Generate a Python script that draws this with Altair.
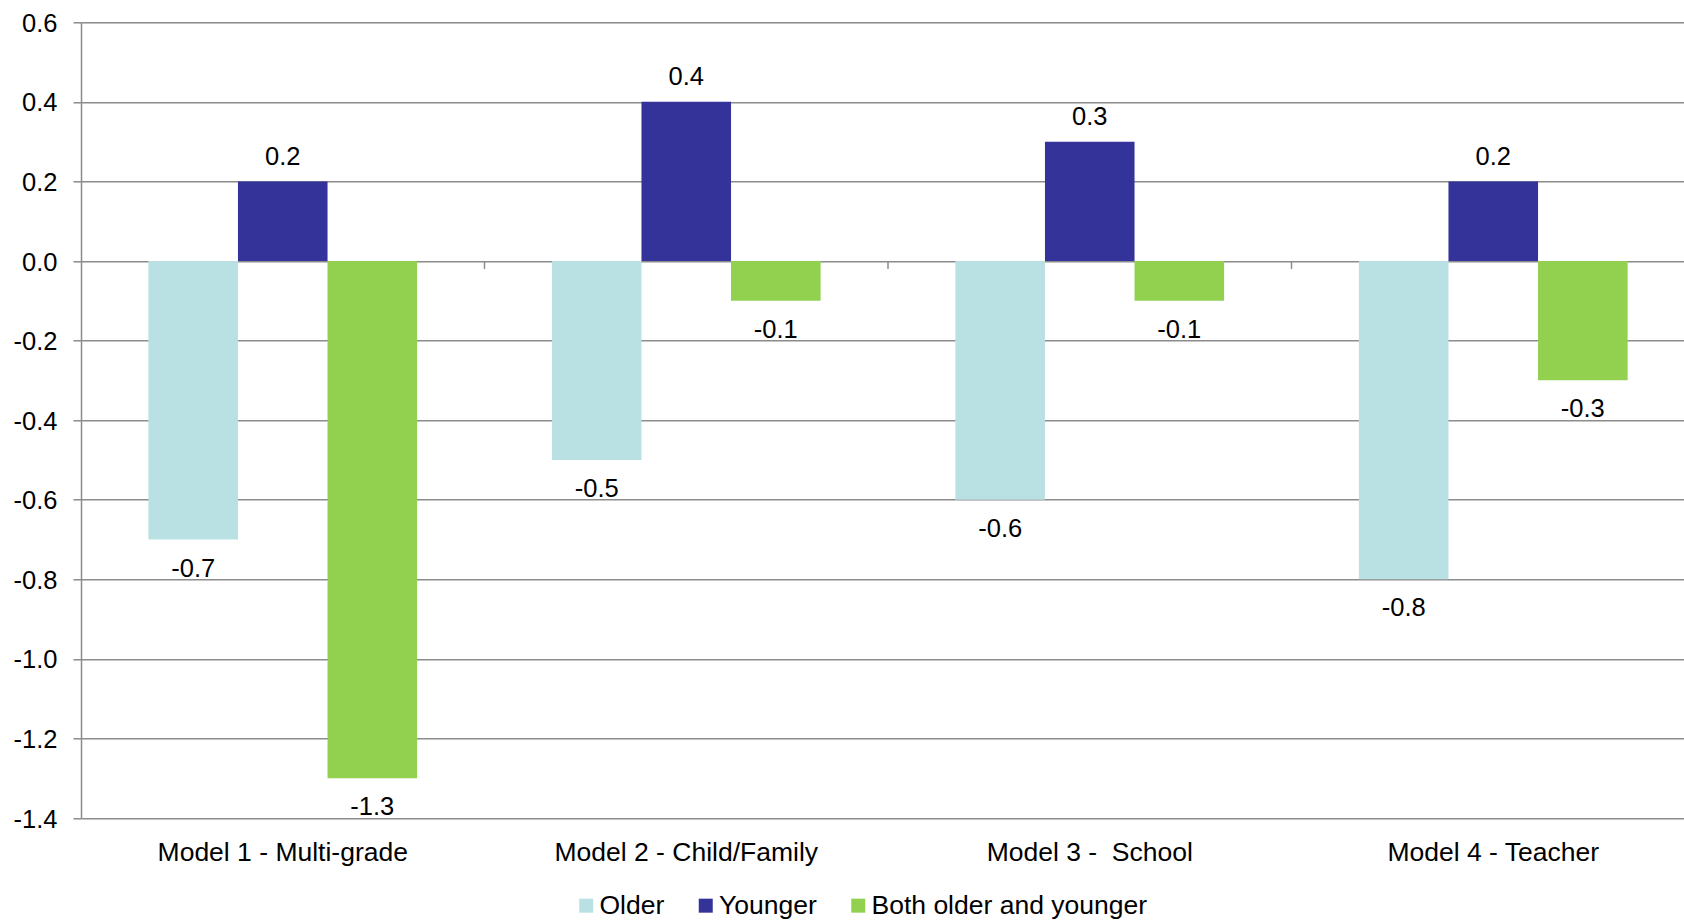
import altair as alt
import pandas as pd

# Effect estimates by model and sibling group
categories = [
    "Model 1 - Multi-grade",
    "Model 2 - Child/Family",
    "Model 3 - \u00a0School",
    "Model 4 - Teacher",
]
series = ["Older", "Younger", "Both older and younger"]
older = [-0.7, -0.5, -0.6, -0.8]
younger = [0.2, 0.4, 0.3, 0.2]
both = [-1.3, -0.1, -0.1, -0.3]
colors = ["#B9E0E3", "#343399", "#92D050"]
y_ticks = [0.6, 0.4, 0.2, 0.0, -0.2, -0.4, -0.6, -0.8, -1.0, -1.2, -1.4]

rows = []
for i, cat in enumerate(categories):
    for name, vals in zip(series, [older, younger, both]):
        rows.append({"model": cat, "series": name, "value": vals[i],
                     "label": f"{vals[i]:.1f}"})
df = pd.DataFrame(rows)
boundaries = pd.DataFrame({"model": categories[1:]})

FONT = "Liberation Sans"
GRID = "#8C8C8C"
PLOT_W = 1603
PLOT_H = 795.7
STEP = 403.5

x_scale = alt.Scale(domain=categories, paddingInner=0.334, paddingOuter=0.167,
                    range=[0, STEP * 4])
y_scale = alt.Scale(domain=[-1.4, 0.6], nice=False, zero=False)

x_enc = alt.X("model:N", scale=x_scale, sort=categories, title=None,
              axis=alt.Axis(labelAngle=0, labelFont=FONT, labelFontSize=26.5,
                            labelColor="#000000", labelBaseline="alphabetic",
                            labelPadding=42, ticks=False, domain=False,
                            labelLimit=0))
y_enc = alt.Y("value:Q", scale=y_scale, title=None,
              axis=alt.Axis(values=y_ticks, format=".1f",
                            labelExpr="replace(datum.label, '\u2212', '-')",
                            labelFont=FONT, labelFontSize=25.5,
                            labelColor="#000000", labelBaseline="alphabetic",
                            labelOffset=9, tickSize=8, tickColor=GRID,
                            tickWidth=1.5, labelPadding=16, domainColor=GRID,
                            domainWidth=1.5, grid=True, gridColor=GRID,
                            gridWidth=1.5, gridOpacity=1))
off_enc = alt.XOffset("series:N", sort=series,
                      scale=alt.Scale(domain=series, paddingInner=0, paddingOuter=0))

bars = alt.Chart(df).mark_bar(strokeWidth=0).encode(
    x=x_enc,
    y=y_enc,
    xOffset=off_enc,
    color=alt.Color(
        "series:N",
        sort=series,
        scale=alt.Scale(domain=series, range=colors),
        legend=alt.Legend(
            orient="none", legendX=492, legendY=870, direction="horizontal",
            title=None, symbolType="square", symbolSize=196,
            symbolStrokeWidth=0, symbolOpacity=1, labelFont=FONT,
            labelFontSize=26.5, labelColor="#000000", labelOffset=0,
            columnPadding=27.5, padding=0, labelLimit=0,
        ),
    ),
)

labels_pos = alt.Chart(df).transform_filter(alt.datum.value >= 0).mark_text(
    font=FONT, fontSize=25.5, color="#000000", baseline="alphabetic", dy=-16.5
).encode(x=alt.X("model:N", scale=x_scale, sort=categories),
         y=alt.Y("value:Q", scale=y_scale),
         xOffset=off_enc,
         text=alt.Text("label:N"))

labels_neg = alt.Chart(df).transform_filter(alt.datum.value < 0).mark_text(
    font=FONT, fontSize=25.5, color="#000000", baseline="alphabetic", dy=37
).encode(x=alt.X("model:N", scale=x_scale, sort=categories),
         y=alt.Y("value:Q", scale=y_scale),
         xOffset=off_enc,
         text=alt.Text("label:N"))

# small category-boundary ticks hanging below the zero line
zero_ticks = alt.Chart(boundaries).mark_tick(
    orient="vertical", size=8, thickness=1.5, color=GRID, opacity=1,
    yOffset=4, xOffset=-STEP / 2,
).encode(x=alt.X("model:N", scale=x_scale, sort=categories),
         y=alt.datum(0))

chart = alt.layer(bars, zero_ticks, labels_pos, labels_neg).properties(
    width=PLOT_W,
    height=PLOT_H,
    autosize=alt.AutoSizeParams(type="none"),
    padding={"left": 81, "top": 22.3, "right": 0, "bottom": 102},
).configure_view(stroke=None).configure(background="#FFFFFF")

chart.save("out.html", embed_options={"renderer": "svg", "actions": False})
